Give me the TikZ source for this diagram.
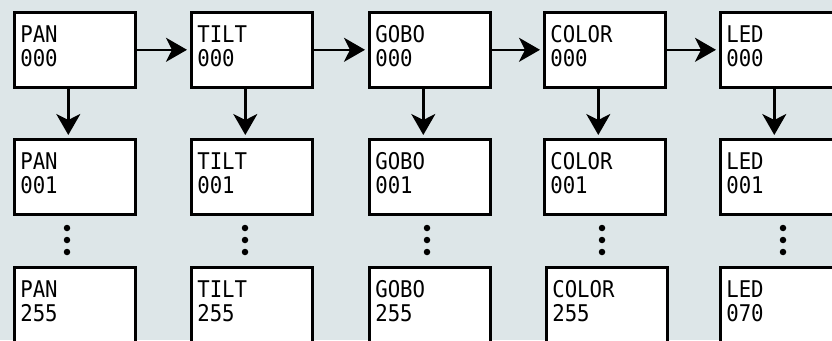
\documentclass[tikz,border=0pt]{standalone}
\usepackage{fontspec}
\newfontfamily\lcdfont[FakeStretch=0.9]{DejaVu Sans Mono}
\usetikzlibrary{arrows.meta,calc}
\definecolor{bgcol}{HTML}{DDE6E8}
\begin{document}
\begin{tikzpicture}[x=1pt,y=-1pt,
  chbox/.style={draw=black, fill=white, line width=2.6pt, minimum width=121pt, minimum height=75pt,
    text width=109pt, align=left, inner xsep=6pt, inner ysep=0pt, anchor=north west, text depth=31pt,
    font=\lcdfont\fontsize{23}{24}\selectfont},
  arr/.style={line width=2.6pt, -{Stealth[length=21pt,width=24pt,inset=6pt]}, shorten >=3pt},
  vdot/.style={circle, fill=black, inner sep=0pt, minimum size=6.5pt}]
\fill[bgcol] (0,0) rectangle (832,340);
\useasboundingbox (0,0) rectangle (832,340);
\foreach \nm/\lx/\lab in {a/13/PAN, b/190/TILT, c/368/GOBO, d/543/COLOR, e/719/LED}{
  \node[chbox] (\nm0) at (\lx,11) {\lab\\000};
  \node[chbox] (\nm1) at (\lx,138) {\lab\\001};
}
\node[chbox] (a2) at (13,266) {PAN\\255};
\node[chbox] (b2) at (190,266) {TILT\\255};
\node[chbox] (c2) at (368,266) {GOBO\\255};
\node[chbox] (d2) at (545,266) {COLOR\\255};
\node[chbox] (e2) at (719,266) {LED\\070};
% horizontal arrows
\draw[arr] (a0.east) -- (b0.west);
\draw[arr] (b0.east) -- (c0.west);
\draw[arr] (c0.east) -- (d0.west);
\draw[arr] (d0.east) -- (e0.west);
% vertical arrows
\foreach \nm in {a,b,c,d,e}{
  \draw[arr] ([xshift=-6.5pt]\nm0.south) -- ([xshift=-6.5pt]\nm0.south |- \nm1.north);
}
% dots
\foreach \nm/\dx in {a/67, b/245, c/427, d/602, e/783}{
  \node[vdot] (\nm d1) at (\dx,228) {};
  \node[vdot] (\nm d2) at (\dx,240) {};
  \node[vdot] (\nm d3) at (\dx,252) {};
}
\end{tikzpicture}
\end{document}
